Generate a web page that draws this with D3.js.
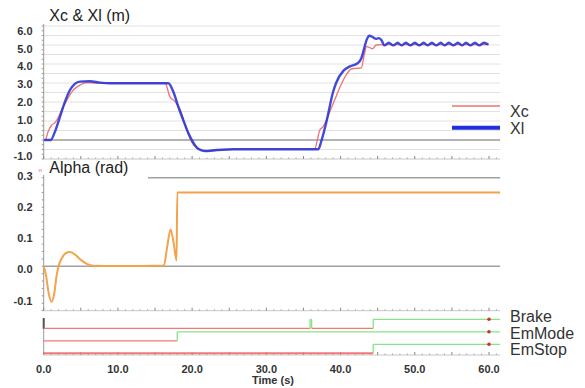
<!DOCTYPE html>
<html><head><meta charset="utf-8">
<script src="https://cdn.jsdelivr.net/npm/d3@7"></script>
<style>body{margin:0;background:#fff}svg{display:block;font-family:"Liberation Sans",Arial,sans-serif}</style>
</head><body><svg id="c" width="585" height="388"></svg>
<script>
// ---- data ----
const xcTime  = [0, 0.2, 0.6, 1.08, 1.52, 2.64, 3.99, 4.9, 5.8, 7.0, 16.35, 17.0, 17.7, 18.4, 19.2, 19.9, 20.8, 21.9, 23.5, 25.6, 36.5, 36.9, 37.2, 37.6, 38.3, 39.2, 40.0, 40.8, 41.5, 42.1, 42.8, 43.2, 43.5, 44.0, 44.3, 44.8, 45.5, 60.0];
const xcValue = [0, 0, 0.45, 0.79, 0.91, 1.75, 2.63, 2.89, 3.02, 3.0, 3.0, 2.28, 2.02, 1.58, 0.62, -0.09, -0.44, -0.58, -0.53, -0.49, -0.49, 0.05, 0.53, 0.68, 1.25, 2.1, 2.85, 3.45, 3.75, 3.77, 3.8, 4.5, 4.91, 4.85, 4.8, 5.0, 5.02, 5.02];
const xlTime  = [0, 0.94, 1.52, 2.2, 2.87, 3.54, 4.2, 4.9, 6.2, 7.6, 8.95, 16.8, 17.47, 18.14, 18.8, 19.5, 20.2, 20.8, 21.7, 23.3, 25.6, 37.0, 37.45, 38.1, 39.0, 39.4, 40.4, 41.2, 42.3, 42.8, 43.2, 43.5, 43.9, 44.3, 44.8, 45.1, 45.5,
  45.9, 46.5, 47.1, 47.7, 48.2, 48.8, 49.4, 50.0, 50.6, 51.2, 51.7, 52.3, 52.9, 53.5, 54.0, 54.6, 55.2, 55.8, 56.4, 56.9, 57.5, 58.1, 58.7, 59.3, 59.9];
const xlValue = [0, 0, 0.44, 1.23, 2.02, 2.63, 2.95, 3.07, 3.09, 3.02, 2.99, 2.99, 2.54, 1.75, 1.05, 0.35, -0.17, -0.46, -0.58, -0.53, -0.49, -0.49, 0, 0.96, 2.54, 3.0, 3.65, 3.86, 4.04, 4.3, 4.85, 5.26, 5.49, 5.42, 5.32, 5.36, 5.26,
  4.98, 5.12, 4.98, 5.12, 4.98, 5.12, 4.98, 5.12, 4.98, 5.12, 4.98, 5.12, 4.98, 5.12, 4.98, 5.12, 4.98, 5.12, 4.98, 5.12, 4.98, 5.12, 4.98, 5.12, 5.03];
const alphaTime  = [0, 0.3, 0.7, 1.05, 1.4, 1.75, 2.0, 2.5, 3.0, 3.5, 4.2, 5.0, 5.8, 6.7, 10.0, 16.2, 16.6, 17.1, 17.5, 17.9, 18.0, 61.5];
const alphaValue = [0, -0.03, -0.095, -0.12, -0.095, -0.03, 0, 0.03, 0.045, 0.048, 0.04, 0.022, 0.008, 0.002, 0.001, 0.003, 0.06, 0.125, 0.08, 0.02, 0.25, 0.25];
const timeTicks = [0, 10, 20, 30, 40, 50, 60];
const xTickYTicks = [-1, 0, 1, 2, 3, 4, 5, 6];
const alphaTicks = [-0.1, 0, 0.1, 0.2, 0.3];
const signalNames = ["Brake", "EmMode", "EmStop"];
const brakeChanges  = [[0, 0], [35.9, 1], [36.1, 0], [44.4, 1]];
const emModeChanges = [[0, 0], [18.0, 1]];
const emStopChanges = [[0, 0], [44.4, 1]];
const tEnd = 61.5;

// ---- scales ----
const svg = d3.select("#c");
const x = d3.scaleLinear().domain([0, 60]).range([43.7, 489]);
const yTop = d3.scaleLinear().domain([0, 6]).range([140, 26]);
const yTopLabel = d3.scaleLinear().domain([-1, 6]).range([157.3, 31.7]);
const yMid = d3.scaleLinear().domain([0, 0.3]).range([266.3, 177.7]);
const yMidLabel = d3.scaleLinear().domain([-0.1, 0.3]).range([301.7, 176.7]);
const yRow = d3.scalePoint().domain(signalNames).range([328.3, 353.3]);
const yRowLabel = d3.scalePoint().domain(signalNames).range([318, 351]);
const yLevel = d3.scaleLinear().domain([0, 1]).range([0, -9]);
const xL = x(0), xR = x(tEnd);
const textCol = "#333";

// ---- top panel ----
const gTop = svg.append("g");
d3.range(-0.5, 6.01, 0.5).filter(v => Math.abs(v) > 1e-6).forEach(v => {
  gTop.append("line").attr("x1", xL).attr("x2", xR).attr("y1", yTop(v)).attr("y2", yTop(v))
    .attr("stroke", "#e2e2e2").attr("stroke-width", 1);
});
gTop.append("line").attr("x1", xL).attr("x2", xR).attr("y1", yTop(0)).attr("y2", yTop(0))
  .attr("stroke", "#b4b4b4").attr("stroke-width", 2);
function hAxis(yPos) {
  svg.append("line").attr("x1", xL).attr("x2", xR).attr("y1", yPos).attr("y2", yPos).attr("stroke", "#c8c8c8");
  d3.range(0, 61.5, 1).forEach(t => {
    const major = t % 5 === 0;
    svg.append("line").attr("x1", x(t)).attr("x2", x(t)).attr("y1", yPos).attr("y2", yPos - (major ? 3 : 1.5))
      .attr("stroke", major ? "#888" : "#aaa");
  });
}
function vAxis(y1, y2, step, scale, lo, hi) {
  svg.append("line").attr("x1", xL).attr("x2", xL).attr("y1", y1).attr("y2", y2).attr("stroke", "#999");
  d3.range(lo, hi + step / 2, step).forEach(v => {
    svg.append("line").attr("x1", xL - 2).attr("x2", xL).attr("y1", scale(v)).attr("y2", scale(v)).attr("stroke", "#999");
  });
}
vAxis(24, yTop(-1), 0.25, yTop, -1, 6);
hAxis(yTop(-1));
xTickYTicks.forEach(v => {
  svg.append("text").attr("x", 32.5).attr("y", yTopLabel(v)).attr("text-anchor", "end")
    .attr("dominant-baseline", "middle").attr("font-size", 11).attr("font-weight", "bold")
    .attr("fill", textCol).text(v.toFixed(1));
});
svg.append("text").attr("x", 49.3).attr("y", 21).attr("font-size", 16).attr("fill", "#222").text("Xc & Xl (m)");

const lineTop = d3.line().x(d => x(d[0])).y(d => yTop(d[1])).curve(d3.curveMonotoneX);
gTop.append("path").attr("d", lineTop(d3.zip(xcTime, xcValue))).attr("fill", "none")
  .attr("stroke", "#f07272").attr("stroke-width", 1.3);
gTop.append("path").attr("d", lineTop(d3.zip(xlTime, xlValue))).attr("fill", "none")
  .attr("stroke", "#2c36d6").attr("stroke-width", 2.4).attr("stroke-opacity", 0.9);
// legend
svg.append("line").attr("x1", 452).attr("x2", 500).attr("y1", 106).attr("y2", 106).attr("stroke", "#f07272").attr("stroke-width", 1.3);
svg.append("line").attr("x1", 452).attr("x2", 500).attr("y1", 127.7).attr("y2", 127.7).attr("stroke", "#1f2fe0").attr("stroke-width", 4);
svg.append("text").attr("x", 510).attr("y", 116.5).attr("font-size", 16).attr("fill", textCol).text("Xc");
svg.append("text").attr("x", 510).attr("y", 134).attr("font-size", 16).attr("fill", textCol).text("Xl");

// ---- middle panel ----
vAxis(175, 310.7, 0.025, yMid, -0.15, 0.3);
svg.append("line").attr("x1", 148).attr("x2", xR).attr("y1", yMid(0.3)).attr("y2", yMid(0.3)).attr("stroke", "#a0a0a0").attr("stroke-width", 1.5);
svg.append("line").attr("x1", xL).attr("x2", xR).attr("y1", yMid(0)).attr("y2", yMid(0)).attr("stroke", "#a0a0a0").attr("stroke-width", 1.5);
hAxis(310.7);
alphaTicks.forEach(v => {
  svg.append("text").attr("x", 32.5).attr("y", yMidLabel(v)).attr("text-anchor", "end")
    .attr("dominant-baseline", "middle").attr("font-size", 11).attr("font-weight", "bold")
    .attr("fill", textCol).text(v.toFixed(1));
});
svg.append("text").attr("x", 49.3).attr("y", 173).attr("font-size", 16).attr("fill", "#222").text("Alpha (rad)");
svg.append("text").attr("x", 38.5).attr("y", 172).attr("font-size", 6).attr("fill", "#e06060").text("n");
const lineMid = d3.line().x(d => x(d[0])).y(d => yMid(d[1])).curve(d3.curveMonotoneX);
svg.append("path").attr("d", lineMid(d3.zip(alphaTime, alphaValue))).attr("fill", "none")
  .attr("stroke", "#f4a24c").attr("stroke-width", 2);

// ---- bottom panel ----
svg.append("line").attr("x1", xL).attr("x2", xL).attr("y1", 318).attr("y2", 355).attr("stroke", "#999");
svg.append("line").attr("x1", xL).attr("x2", xL).attr("y1", 318).attr("y2", 329).attr("stroke", "#555").attr("stroke-width", 2);
hAxis(355);
const red = "#f07878", green = "#86e486";
const signals = [brakeChanges, emModeChanges, emStopChanges];
signals.forEach((ch, i) => {
  const base = yRow(signalNames[i]);
  ch.forEach((c, k) => {
    const t1 = k + 1 < ch.length ? ch[k + 1][0] : tEnd;
    svg.append("line").attr("x1", x(c[0])).attr("x2", x(t1))
      .attr("y1", base + yLevel(c[1])).attr("y2", base + yLevel(c[1]))
      .attr("stroke", c[1] ? green : red).attr("stroke-width", i === 2 && !c[1] ? 2 : 1.3);
    if (k + 1 < ch.length) {
      svg.append("line").attr("x1", x(t1)).attr("x2", x(t1))
        .attr("y1", base + yLevel(c[1])).attr("y2", base + yLevel(ch[k + 1][1]))
        .attr("stroke", green).attr("stroke-width", 1.3);
    }
  });
  const last = ch[ch.length - 1][1];
  svg.append("circle").attr("cx", x(60)).attr("cy", base + yLevel(last)).attr("r", 1.8).attr("fill", "#d03030");
  svg.append("text").attr("x", 510).attr("y", yRowLabel(signalNames[i])).attr("dominant-baseline", "middle")
    .attr("font-size", 16).attr("fill", textCol).text(signalNames[i]);
});
timeTicks.forEach(t => {
  svg.append("text").attr("x", x(t)).attr("y", 370).attr("text-anchor", "middle").attr("dominant-baseline", "middle")
    .attr("font-size", 11).attr("font-weight", "bold").attr("fill", textCol).text(t.toFixed(1));
});
svg.append("text").attr("x", 273).attr("y", 384).attr("text-anchor", "middle").attr("font-size", 11)
  .attr("font-weight", "bold").attr("fill", textCol).text("Time (s)");
</script></body></html>
